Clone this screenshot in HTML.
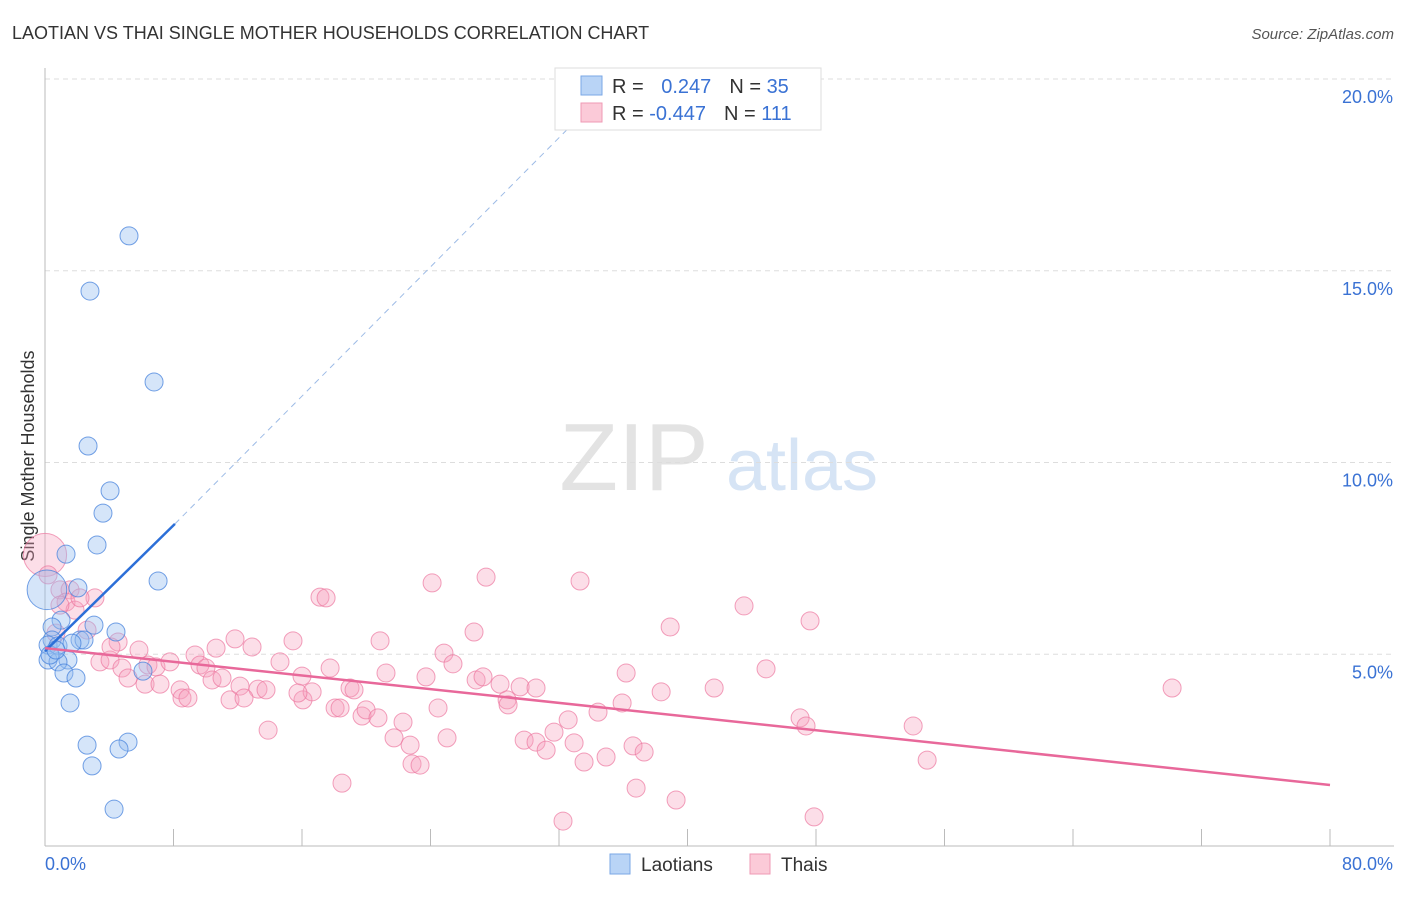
<!DOCTYPE html>
<html><head><meta charset="utf-8"><style>
body{margin:0;background:#fff;font-family:"Liberation Sans",sans-serif;}
svg text{font-family:"Liberation Sans",sans-serif;}
</style></head><body>
<svg id="chart" width="1406" height="892">
<text x="12" y="39" font-size="18" fill="#333">LAOTIAN VS THAI SINGLE MOTHER HOUSEHOLDS CORRELATION CHART</text>
<text x="1394" y="39" font-size="15" fill="#555" font-style="italic" text-anchor="end">Source: ZipAtlas.com</text>
<text transform="translate(34,456) rotate(-90)" font-size="18" fill="#333" text-anchor="middle">Single Mother Households</text>
<g>
<text x="634" y="490" font-size="96" fill="#e3e3e3" font-family="Liberation Serif" text-anchor="middle">ZIP</text>
<text x="802" y="490" font-size="72" fill="#d6e4f5" text-anchor="middle">atlas</text>
</g>
<g id="grid"></g><g id="axes"></g><g id="pts"></g><g id="lines"></g>
<g>
<rect x="555" y="68" width="266" height="62" fill="#fff" stroke="#ddd"/>
<rect x="581" y="76" width="21" height="19" fill="#b9d4f6" stroke="#7aa7e6"/>
<rect x="581" y="103" width="21" height="19" fill="#fbcad8" stroke="#ef9ab4"/>
<text x="612" y="93" font-size="20" fill="#333">R = <tspan fill="#3a72d4" dx="12">0.247</tspan><tspan dx="18" fill="#333">N = </tspan><tspan fill="#3a72d4">35</tspan></text>
<text x="612" y="120" font-size="20" fill="#333">R = <tspan fill="#3a72d4">-0.447</tspan><tspan dx="18" fill="#333">N = </tspan><tspan fill="#3a72d4">111</tspan></text>
</g>
<g>
<rect x="610" y="854" width="20" height="20" fill="#b9d4f6" stroke="#7aa7e6"/>
<text x="641" y="871" font-size="19" fill="#333">Laotians</text>
<rect x="750" y="854" width="20" height="20" fill="#fbcad8" stroke="#ef9ab4"/>
<text x="781" y="871" font-size="19" fill="#333">Thais</text>
</g>
</svg>
<script>
const yTicks=[5,10,15,20];
const yTickLabels=["5.0%","10.0%","15.0%","20.0%"];
const xTicks=[0,8,16,24,32,40,48,56,64,72,80];
const xMinLabel="0.0%", xMaxLabel="80.0%";
const laoX=[5.23,2.80,6.79,2.68,4.05,3.61,3.24,1.31,7.04,2.05,0.12,3.05,4.42,1.00,0.44,0.44,0.19,0.81,2.18,2.43,1.68,0.19,1.43,0.81,1.18,1.93,6.10,1.56,2.62,5.17,4.61,2.93,4.30,0.31,0.68];
const laoY=[15.91,14.47,12.10,10.43,9.26,8.68,7.85,7.61,6.91,6.73,6.68,5.76,5.58,5.89,5.71,5.37,5.24,5.22,5.37,5.37,5.29,4.85,4.85,4.80,4.51,4.38,4.56,3.73,2.63,2.71,2.53,2.09,0.96,4.98,5.11];
const laoSize=[1,1,1,1,1,1,1,1,1,1,2.2,1,1,1,1,1,1,1,1,1,1,1,1,1,1,1,1,1,1,1,1,1,1,1,1];
const thaiX=[0,0.19,0.93,1.56,3.11,1.31,1.87,2.62,4.55,5.85,3.42,4.05,4.79,6.41,6.91,7.78,5.17,6.23,7.16,8.41,9.34,9.65,10.65,10.02,10.40,11.02,11.83,12.89,12.14,13.26,13.76,11.52,12.39,8.53,8.90,15.44,14.63,16.00,16.06,16.63,15.75,17.12,17.50,17.75,18.06,18.99,19.24,18.37,19.74,19.99,20.73,20.86,21.23,22.29,21.73,22.73,22.85,23.35,24.10,23.72,24.47,24.84,25.40,25.03,26.71,27.46,26.84,27.27,28.33,28.77,28.83,29.58,30.57,29.83,30.57,31.20,31.69,32.57,32.94,33.31,33.56,34.43,34.93,35.93,36.18,36.61,37.30,38.92,38.36,36.80,39.29,41.66,43.52,44.89,47.01,47.38,47.63,54.05,54.92,70.17,32.25,47.88,18.49,13.89,0.93,2.18,0.68,4.11];
const thaiY=[7.59,7.07,6.68,6.68,6.47,6.36,6.15,5.63,5.32,5.11,4.80,4.85,4.64,4.72,4.67,4.80,4.38,4.22,4.22,4.07,4.98,4.72,5.16,4.64,4.33,4.38,5.40,5.19,4.17,4.09,4.07,3.81,3.86,3.86,3.86,5.35,4.80,4.43,3.81,4.02,3.99,6.49,6.47,4.64,3.60,4.12,4.07,3.60,3.39,3.55,3.34,5.35,4.51,3.23,2.82,2.63,2.14,2.11,6.86,4.41,3.60,5.03,4.75,2.82,5.58,7.01,4.33,4.41,4.22,3.81,3.68,4.15,4.12,2.76,2.71,2.50,2.97,3.29,2.69,6.91,2.19,3.49,2.32,3.73,4.51,2.61,2.45,5.71,4.02,1.51,1.20,4.12,6.26,4.62,3.34,3.13,5.87,3.13,2.24,4.12,0.65,0.76,1.64,3.02,6.28,6.47,5.55,5.19];
const thaiSize=thaiX.map((v,i)=>i===0?2.4:1);
const laoTrend=[0,5.08,8.09,8.40,33.5,19.1];
const thaiTrend=[0,5.16,80,1.59];
const X0=45,X1=1330,Y0=846,Y1=79;
const sx=v=>X0+(v/80)*(X1-X0);
const sy=v=>Y0-(v/20)*(Y0-Y1);
const NS="http://www.w3.org/2000/svg";
function mk(tag,attrs,parent){const e=document.createElementNS(NS,tag);for(const k in attrs)e.setAttribute(k,attrs[k]);parent.appendChild(e);return e;}
const grid=document.getElementById('grid'),axes=document.getElementById('axes'),pts=document.getElementById('pts'),lines=document.getElementById('lines');
yTicks.forEach((t,i)=>{
 const g=mk('line',{x1:X0,x2:1394,y1:sy(t),y2:sy(t),stroke:'#ddd','stroke-dasharray':'5,4'},grid);
 
 
 const l=mk('text',{x:1393,y:sy(t)+24,'font-size':18,fill:'#3a72d4','text-anchor':'end'},axes);
 l.textContent=yTickLabels[i];
 
 
});
const ax=mk('line',{x1:X0,x2:X0,y1:68,y2:Y0,stroke:'#bbb'},axes);


const bx=mk('line',{x1:X0,x2:1394,y1:Y0,y2:Y0,stroke:'#bbb'},axes);


xTicks.forEach(t=>{
 const tk=mk('line',{x1:sx(t),x2:sx(t),y1:Y0,y2:Y0-17,stroke:'#bbb'},axes);
 
 
});
const xl=mk('text',{x:45,y:870,'font-size':18,fill:'#3a72d4'},axes);xl.textContent=xMinLabel;


const xr=mk('text',{x:1393,y:870,'font-size':18,fill:'#3a72d4','text-anchor':'end'},axes);xr.textContent=xMaxLabel;


thaiX.forEach((v,i)=>{
 const c=mk('circle',{cx:sx(v),cy:sy(thaiY[i]),r:9*thaiSize[i],fill:'rgba(247,160,188,0.35)',stroke:'rgba(236,120,160,0.7)','stroke-width':1},pts);
 
 
});
laoX.forEach((v,i)=>{
 const c=mk('circle',{cx:sx(v),cy:sy(laoY[i]),r:9*laoSize[i],fill:'rgba(150,190,240,0.4)',stroke:'rgba(70,130,220,0.75)','stroke-width':1},pts);
 
 
});
const lt=mk('line',{x1:sx(laoTrend[0]),y1:sy(laoTrend[1]),x2:sx(laoTrend[2]),y2:sy(laoTrend[3]),stroke:'#2c6fd8','stroke-width':2.5},lines);


const ld=mk('line',{x1:sx(laoTrend[2]),y1:sy(laoTrend[3]),x2:sx(laoTrend[4]),y2:sy(laoTrend[5]),stroke:'#9dbbe6','stroke-width':1,'stroke-dasharray':'6,5'},lines);


const tt=mk('line',{x1:sx(thaiTrend[0]),y1:sy(thaiTrend[1]),x2:sx(thaiTrend[2]),y2:sy(thaiTrend[3]),stroke:'#e8689a','stroke-width':2.5},lines);


</script>
</body></html>
